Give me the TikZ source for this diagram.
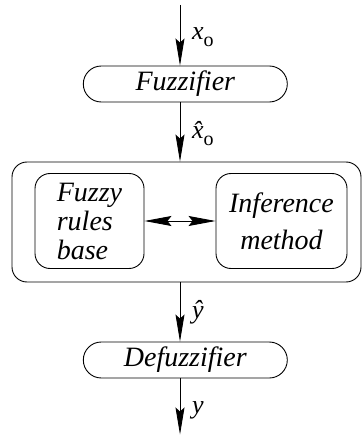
\documentclass[tikz,border=0pt]{standalone}
\usepackage{fontspec}
\setmainfont{Liberation Serif}[ItalicFont={Liberation Serif Italic}]
\usetikzlibrary{arrows.meta,shapes.misc}

% label with an upright subscript "o"
\newcommand\withsub[1]{#1\raisebox{-7pt}{\fontsize{20}{20}\selectfont\upshape o}}

\tikzset{
  flow/.style={line width=0.9pt,-{Stealth[length=27pt,width=9pt,inset=4pt]}},
  both/.style={line width=0.9pt,{Stealth[length=27pt,width=10pt,inset=4pt]}-{Stealth[length=27pt,width=10pt,inset=4pt]}},
  pill/.style={draw,line width=0.9pt,rounded rectangle,minimum width=204pt,minimum height=36pt,inner sep=0pt,
    font=\fontsize{28}{30}\selectfont\itshape},
  roundbox/.style={draw,line width=0.9pt,rounded corners=15pt,inner sep=0pt},
  lab/.style={anchor=base west,inner sep=0pt,font=\fontsize{26}{28}\selectfont\itshape}
}

\begin{document}
\begin{tikzpicture}[x=1pt,y=1pt]
  \useasboundingbox (0,0) rectangle (362,-435);

  % main blocks
  \node[pill] (fuzz) at (185.3,-84) {Fuzzifier};
  \node[roundbox,minimum width=349pt,minimum height=120pt] (core) at (186.5,-222) {};
  \node[roundbox,minimum width=109pt,minimum height=95pt,align=left,
        font=\fontsize{28}{29}\selectfont\itshape] (rules) at (89.5,-221) {Fuzzy\\rules\\base};
  \node[roundbox,minimum width=131pt,minimum height=95pt,align=center,
        font=\fontsize{28}{37}\selectfont\itshape] (infer) at (281.5,-221) {Inference\\method};
  \node[pill] (defuzz) at (185.3,-360) {Defuzzifier};

  % free ends of the signal path
  \coordinate (in) at (180,-5);
  \coordinate (out) at (180,-434.5);

  % signal flow
  \draw[flow] (in) -- (in |- fuzz.north);
  \draw[flow] (in |- fuzz.south) -- (in |- core.north);
  \draw[flow] (in |- core.south) -- (in |- defuzz.north);
  \draw[flow] (in |- defuzz.south) -- (out);
  \draw[both] (rules.east) -- (infer.west);

  % signal labels
  \node[lab] (lx) at (192,-40) {\withsub{x}};
  \node[lab] (lxh) at (192,-139) {\withsub{\^{x}}};
  \node[lab] (lyh) at (192,-318) {\^{y}};
  \node[lab] (ly) at (192,-413) {y};
\end{tikzpicture}
\end{document}
